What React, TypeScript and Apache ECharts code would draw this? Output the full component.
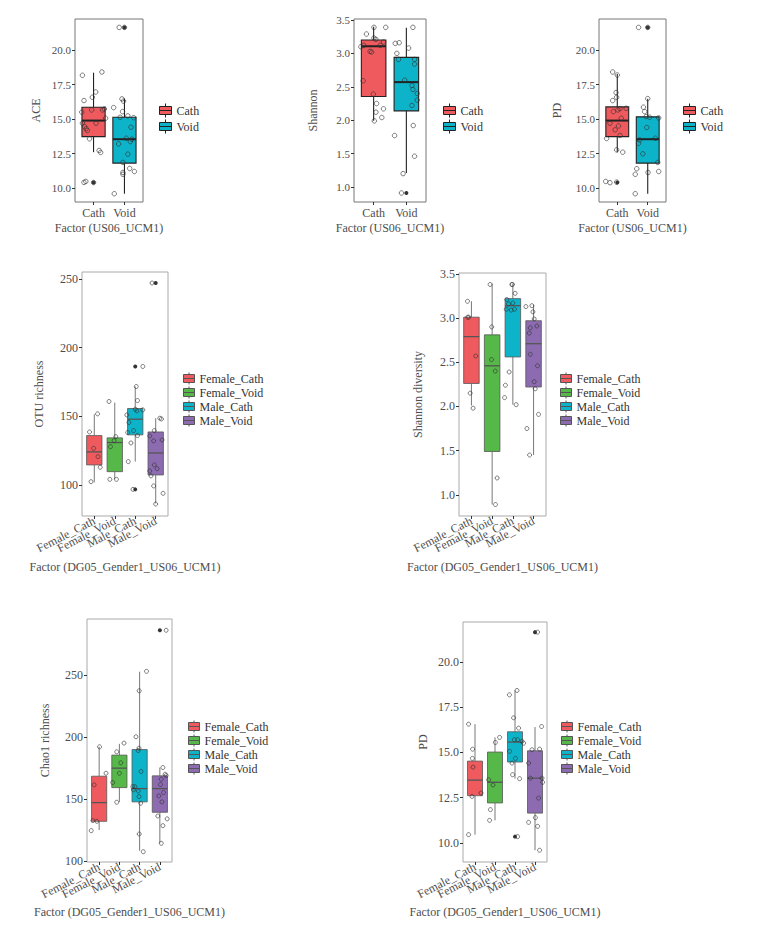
import React, { useEffect, useRef } from "react";
import * as echarts from "echarts";

const FONT = '"Liberation Serif", "Times New Roman", serif';

const cat2 = ["Cath", "Void"];
const cat4 = ["Female_Cath", "Female_Void", "Male_Cath", "Male_Void"];
const colors2 = ["#EF5A5E", "#0DB4C9"];
const colors4 = ["#EF5A5E", "#55B848", "#0DB4C9", "#8C6BB1"];

// box stats per group: [lower whisker, Q1, median, Q3, upper whisker]
// points per group: [horizontal jitter (category units), value]

// ---- ACE by US06_UCM1
const aceBox = [
  [12.6, 13.73, 14.89, 15.86, 18.36],
  [9.59, 11.81, 13.54, 15.13, 16.48],
];
const aceOut = [[10.41], [21.64]];
const acePts = [
  [[-0.36, 18.17], [0.27, 18.41], [-0.31, 16.34], [-0.04, 16.58], [0.07, 16.96], [-0.06, 15.66], [0.29, 15.66], [0.35, 15.73], [-0.38, 15.5], [-0.36, 14.7], [-0.29, 14.46], [-0.2, 14.17], [-0.24, 14.3], [0.08, 14.7], [0.39, 15.06], [-0.13, 13.57], [0.18, 12.72], [0.23, 12.58], [-0.31, 10.41], [-0.25, 10.48], [0, 10.4]],
  [[-0.17, 21.64], [0, 21.64], [-0.08, 16.46], [-0.03, 16.3], [-0.35, 15.83], [-0.06, 15.54], [0.11, 15.23], [0.3, 15.1], [-0.14, 15.13], [0.21, 14.41], [-0.19, 13.2], [0.06, 13.61], [0.24, 13.54], [0.19, 13.37], [0.11, 12.46], [-0.05, 11.86], [-0.05, 11.13], [-0.05, 11.0], [0.17, 11.42], [0.32, 11.2], [-0.33, 9.59]],
];

// ---- Shannon by US06_UCM1
const shBox = [
  [1.99, 2.355, 3.107, 3.2, 3.4],
  [1.21, 2.14, 2.57, 2.94, 3.385],
];
const shOut = [[], [0.91]];
const shPts = [
  [[-0.22, 3.29], [0.01, 3.39], [0.37, 3.39], [0.01, 3.23], [0.07, 3.21], [-0.39, 3.1], [-0.3, 3.12], [-0.11, 3.03], [-0.06, 3.02], [0.2, 3.12], [0.3, 3.17], [-0.32, 2.59], [-0.01, 2.39], [0.09, 2.25], [0.3, 2.17], [0.07, 2.12], [0.25, 2.04], [0.02, 1.99]],
  [[-0.34, 3.15], [-0.22, 3.16], [-0.29, 3.0], [-0.24, 2.91], [0.07, 3.08], [0.2, 3.39], [0.25, 2.91], [0.25, 2.84], [-0.05, 2.6], [0.17, 2.52], [0.2, 2.46], [0.33, 2.4], [0.33, 2.3], [0.17, 2.22], [0.21, 1.92], [-0.36, 1.77], [0.25, 1.46], [-0.1, 1.2], [-0.15, 0.91]],
];

// ---- PD by US06_UCM1
const pdBox = [
  [12.6, 13.73, 14.89, 15.88, 18.27],
  [9.59, 11.81, 13.54, 15.16, 16.48],
];
const pdOut = [[10.41], [21.64]];
const pdPts = [
  [[-0.15, 18.41], [0, 18.19], [-0.04, 16.92], [-0.02, 16.58], [-0.15, 16.34], [0.02, 15.66], [-0.13, 15.54], [0.09, 15.76], [0.29, 15.78], [-0.24, 14.7], [-0.07, 14.22], [0.04, 14.5], [0.13, 15.06], [0.09, 13.81], [-0.35, 13.59], [-0.02, 12.77], [0.18, 12.6], [-0.38, 10.48], [-0.24, 10.39], [-0.02, 10.43]],
  [[-0.3, 21.64], [0, 21.64], [0, 16.48], [-0.14, 15.86], [-0.1, 15.54], [-0.05, 15.18], [0.06, 15.13], [0.36, 15.08], [-0.03, 14.39], [-0.27, 13.49], [-0.3, 13.25], [0.25, 13.61], [-0.16, 12.48], [-0.36, 11.4], [-0.41, 11.0], [0.01, 11.13], [0.33, 11.86], [0.36, 11.2], [-0.41, 9.59]],
];

// ---- OTU richness by DG05_Gender1_US06_UCM1
const otuBox = [
  [101.9, 114.6, 124.1, 135.97, 151.5],
  [104.1, 109.7, 130.9, 134.3, 160.0],
  [117.0, 136.5, 147.9, 155.7, 171.7],
  [86.6, 107.3, 123.3, 138.6, 148.6],
];
const otuOut = [[], [], [186.3, 96.8], [247.1]];
const otuPts = [
  [[-0.23, 138.6], [0.16, 151.8], [-0.03, 126.7], [0.18, 120.6], [0.29, 112.9], [-0.16, 102.4]],
  [[-0.28, 160.8], [0.05, 135.2], [-0.03, 132.3], [-0.21, 127.9], [-0.24, 104.1], [0.08, 104.1]],
  [[0.37, 186.3], [0.05, 171.7], [0.11, 161.5], [-0.41, 151.0], [-0.31, 145.5], [-0.37, 138.2], [0, 155.2], [0.08, 154], [0.37, 154.7], [-0.08, 139.6], [0.11, 136], [-0.21, 130.6], [-0.34, 117.0], [-0.11, 96.8]],
  [[-0.18, 247.1], [0.2, 148.6], [0.28, 148.1], [-0.07, 139.6], [-0.29, 135.7], [-0.1, 132.1], [0.31, 132.8], [-0.07, 114.6], [0.07, 111.9], [-0.29, 110.2], [-0.23, 106.6], [-0.1, 99.3], [0.36, 93.9], [0, 86.1]],
];

// ---- Shannon diversity by DG05_Gender1_US06_UCM1
const shdBox = [
  [2.01, 2.26, 2.79, 3.01, 3.19],
  [0.89, 1.49, 2.46, 2.81, 3.39],
  [2.02, 2.56, 3.14, 3.22, 3.39],
  [1.45, 2.22, 2.71, 2.97, 3.15],
];
const shdOut = [[], [], [], []];
const shdPts = [
  [[-0.19, 3.19], [-0.18, 3.01], [-0.13, 3.01], [0.21, 2.57], [-0.06, 2.15], [0.08, 1.98]],
  [[-0.1, 3.38], [-0.02, 2.9], [-0.03, 2.53], [0.15, 2.4], [0.24, 1.19], [0.16, 0.89]],
  [[-0.05, 3.38], [-0.02, 3.38], [0.11, 3.28], [-0.29, 3.21], [-0.21, 3.16], [-0.32, 3.1], [-0.08, 3.09], [0.08, 3.1], [0, 3.17], [-0.18, 2.39], [-0.36, 2.24], [-0.4, 2.1], [0.16, 2.02]],
  [[-0.37, 3.13], [-0.08, 3.14], [-0.03, 3.07], [0.03, 2.99], [-0.16, 2.89], [0.16, 2.91], [-0.21, 2.83], [-0.16, 2.59], [0.19, 2.46], [0.03, 2.28], [0.08, 2.2], [0.24, 1.91], [-0.32, 1.75], [-0.19, 1.45]],
];

// ---- Chao1 richness by DG05_Gender1_US06_UCM1
const chaoBox = [
  [125.0, 132.0, 147.1, 168.4, 192.1],
  [147.7, 159.2, 174.9, 185.4, 194.5],
  [108.3, 147.7, 158.4, 189.9, 252.7],
  [114.3, 139.3, 158.4, 168.7, 175.4],
];
const chaoOut = [[], [], [], [286.1]];
const chaoPts = [
  [[0.02, 192.1], [-0.25, 161.4], [0.34, 170.8], [-0.31, 132.6], [-0.11, 132], [-0.39, 124.5]],
  [[-0.13, 188.1], [0.23, 195.1], [0.07, 179.2], [0, 170.8], [-0.33, 163.3], [-0.13, 147.4]],
  [[0.34, 253.0], [-0.02, 237.3], [-0.18, 200.2], [-0.03, 191.0], [-0.07, 189.1], [0.07, 172.2], [-0.34, 160], [-0.23, 160.0], [-0.31, 157.4], [-0.07, 156.5], [-0.03, 152.0], [0.05, 146.6], [-0.02, 121.8], [0.18, 107.5]],
  [[0.31, 286.1], [0.15, 175.4], [0.26, 170.0], [0.31, 168.9], [0.07, 166.0], [0.03, 161.7], [0.18, 155.2], [-0.05, 152.5], [0.1, 147.7], [-0.1, 136.3], [0.36, 134.0], [0.15, 128.5], [0.07, 114.3]],
];

// ---- PD by DG05_Gender1_US06_UCM1
const pd4Box = [
  [10.46, 12.61, 13.47, 14.52, 16.56],
  [11.25, 12.21, 13.35, 15.02, 15.83],
  [13.55, 14.47, 15.57, 16.14, 18.42],
  [9.6, 11.65, 13.58, 15.09, 16.4],
];
const pd4Out = [[], [], [10.35], [21.64]];
const pd4Pts = [
  [[-0.32, 16.56], [-0.12, 15.18], [-0.13, 14.67], [-0.1, 14.19], [0.3, 12.76], [-0.15, 12.57], [-0.32, 10.46]],
  [[0.23, 15.83], [0.02, 15.55], [-0.32, 13.49], [-0.1, 13.2], [-0.23, 11.84], [-0.27, 11.25]],
  [[0.1, 18.42], [-0.28, 18.18], [-0.07, 16.91], [0.18, 16.34], [-0.03, 15.7], [0.13, 15.7], [0.35, 15.61], [0.43, 15.51], [-0.27, 15.06], [-0.15, 14.41], [0.02, 14.67], [-0.12, 13.77], [0.23, 13.55], [0.13, 10.35]],
  [[0.13, 21.64], [0.33, 16.43], [0.23, 15.18], [-0.15, 15.15], [-0.32, 14.41], [-0.23, 13.58], [0.35, 13.58], [0.38, 13.35], [0.18, 12.48], [-0.32, 11.14], [0.02, 11.4], [0.13, 10.92], [0.23, 9.6]],
];

const ticksPD = [10, 12.5, 15, 17.5, 20];
const ticksSh = [1, 1.5, 2, 2.5, 3, 3.5];
const ticksRich = [100, 150, 200, 250];

const xName2 = "Factor (US06_UCM1)";
const xName4 = "Factor (DG05_Gender1_US06_UCM1)";

const ICON_TOP = "path://M6,0L6,3M0,3L12,3L12,11L0,11ZM0,7L12,7M6,11L6,14";
const ICON_BOT = "path://M5.5,0L5.5,2M0,2L11,2L11,10L0,10ZM0,6L11,6M5.5,10L5.5,12";

const panels = [
  { cats: cat2, colors: colors2, box: aceBox, out: aceOut, pts: acePts, ymin: 8.99, ymax: 22.25, ticks: ticksPD, dec: 1, yName: "ACE", xName: xName2,
    grid: [75, 19, 68, 183], yGap: 33, xGap: 20, rotate: 0, legend: [159, 103], top: true },
  { cats: cat2, colors: colors2, box: shBox, out: shOut, pts: shPts, ymin: 0.775, ymax: 3.515, ticks: ticksSh, dec: 1, yName: "Shannon", xName: xName2,
    grid: [354, 19, 72, 183], yGap: 35, xGap: 20, rotate: 0, legend: [443, 103], top: true },
  { cats: cat2, colors: colors2, box: pdBox, out: pdOut, pts: pdPts, ymin: 8.99, ymax: 22.25, ticks: ticksPD, dec: 1, yName: "PD", xName: xName2,
    grid: [599, 19, 67, 183], yGap: 36, xGap: 20, rotate: 0, legend: [683, 103], top: true },
  { cats: cat4, colors: colors4, box: otuBox, out: otuOut, pts: otuPts, ymin: 77.4, ymax: 255.1, ticks: ticksRich, dec: 0, yName: "OTU richness", xName: xName4,
    grid: [82, 272, 86, 244], yGap: 37, xGap: 45, rotate: 27, legend: [183, 372], top: false },
  { cats: cat4, colors: colors4, box: shdBox, out: shdOut, pts: shdPts, ymin: 0.76, ymax: 3.51, ticks: ticksSh, dec: 1, yName: "Shannon diversity", xName: xName4,
    grid: [459, 273, 87, 243], yGap: 35, xGap: 45, rotate: 27, legend: [560, 372], top: false },
  { cats: cat4, colors: colors4, box: chaoBox, out: chaoOut, pts: chaoPts, ymin: 99.2, ymax: 295.2, ticks: ticksRich, dec: 0, yName: "Chao1 richness", xName: xName4,
    grid: [87, 619, 85, 243], yGap: 36, xGap: 44, rotate: 27, legend: [188, 720], top: false },
  { cats: cat4, colors: colors4, box: pd4Box, out: pd4Out, pts: pd4Pts, ymin: 8.95, ymax: 22.2, ticks: ticksPD, dec: 1, yName: "PD", xName: xName4,
    grid: [463, 622, 84, 240], yGap: 34, xGap: 44, rotate: 27, legend: [561, 720], top: false },
];

function makeRender(stroke: string, lw: number, medLw: number) {
  return (params: any, api: any) => {
    const x = api.value(0);
    const lo = api.coord([x, api.value(1)]);
    const q1 = api.coord([x, api.value(2)]);
    const md = api.coord([x, api.value(3)]);
    const q3 = api.coord([x, api.value(4)]);
    const hi = api.coord([x, api.value(5)]);
    const half = api.size([0.75, 0])[0] / 2;
    const fill = api.visual("color");
    return {
      type: "group",
      children: [
        { type: "line", shape: { x1: hi[0], y1: hi[1], x2: q3[0], y2: q3[1] }, style: { stroke, lineWidth: lw } },
        { type: "line", shape: { x1: q1[0], y1: q1[1], x2: lo[0], y2: lo[1] }, style: { stroke, lineWidth: lw } },
        { type: "rect", shape: { x: q3[0] - half, y: q3[1], width: half * 2, height: q1[1] - q3[1] }, style: { fill, stroke, lineWidth: lw } },
        { type: "line", shape: { x1: md[0] - half, y1: md[1], x2: md[0] + half, y2: md[1] }, style: { stroke, lineWidth: medLw } },
      ],
    };
  };
}

function buildOption() {
  const grid: any[] = [];
  const xAxis: any[] = [];
  const labelAxes: any[] = [];
  const yAxis: any[] = [];
  const legend: any[] = [];
  const series: any[] = [];
  const textCol = "#4d4d4d";

  panels.forEach((p, i) => {
    const n = p.cats.length;
    const stroke = p.top ? "#222" : "#555";
    grid.push({
      left: p.grid[0], top: p.grid[1], width: p.grid[2], height: p.grid[3],
      show: true, borderColor: p.top ? "#777" : "#aaa", borderWidth: 1, backgroundColor: "#fff",
    });
    // value axis (positions of boxes & points): 0.6 units of padding each side, as ggplot
    xAxis.push({
      gridIndex: i, type: "value", position: "top", min: 0.4, max: n + 0.6, show: false,
    });
    // label axes: category points every 0.1 unit; one axis per category label
    const steps = Math.round((n + 0.2) * 10) + 1;
    const stepData = Array.from({ length: steps }, (_, j) => "s" + j);
    p.cats.forEach((c, k) => {
      const at = (j: number) => j === 6 + 10 * k;
      labelAxes.push({
        gridIndex: i, type: "category", position: "bottom", offset: 0, boundaryGap: false, data: stepData,
        axisLine: { show: false }, splitLine: { show: false },
        axisTick: { show: true, interval: at, length: 3, lineStyle: { color: "#333" } },
        axisLabel: {
          interval: at, formatter: () => c,
          rotate: p.rotate, margin: p.rotate ? 4 : 5, fontSize: 12, color: textCol, fontFamily: FONT,
          showMinLabel: true, showMaxLabel: true, hideOverlap: false,
        },
        name: k === 0 ? p.xName : "", nameLocation: "middle", nameGap: p.xGap,
        nameTextStyle: { fontSize: 12, color: textCol, fontFamily: FONT },
      });
    });
    yAxis.push({
      gridIndex: i, type: "value", min: p.ymin, max: p.ymax,
      axisLine: { show: false }, splitLine: { show: false },
      axisTick: { show: true, customValues: p.ticks, length: 3, lineStyle: { color: "#333" } },
      axisLabel: {
        customValues: p.ticks, formatter: (v: number) => v.toFixed(p.dec),
        margin: 4, fontSize: p.top ? 11 : 12, color: textCol, fontFamily: FONT,
        showMinLabel: true, showMaxLabel: true, hideOverlap: false,
      },
      name: p.yName, nameLocation: "middle", nameGap: p.yGap,
      nameTextStyle: { fontSize: 12, color: textCol, fontFamily: FONT },
    });
    legend.push({
      orient: "vertical", left: p.legend[0], top: p.legend[1], padding: 0,
      itemWidth: p.top ? 12 : 11, itemHeight: p.top ? 14 : 12, itemGap: 1,
      icon: p.top ? ICON_TOP : ICON_BOT, selectedMode: false,
      itemStyle: { borderColor: stroke, borderWidth: 1 },
      textStyle: { fontSize: 12, color: "#333", fontFamily: FONT },
      data: p.cats.map((c) => ({ name: c })),
    });
    p.cats.forEach((c, k) => {
      series.push({
        type: "custom", name: c, xAxisIndex: i, yAxisIndex: i, silent: true,
        itemStyle: { color: p.colors[k] },
        renderItem: makeRender(stroke, p.top ? 1.1 : 0.8, p.top ? 2 : 1.3),
        encode: { x: 0, y: [1, 2, 3, 4, 5] },
        data: [[k + 1, ...p.box[k]]],
      });
    });
    const outData: number[][] = [];
    p.out.forEach((arr, k) => arr.forEach((v) => outData.push([k + 1, v])));
    series.push({
      type: "scatter", name: "outliers-" + i, xAxisIndex: i, yAxisIndex: i, silent: true,
      symbol: "circle", symbolSize: 4, itemStyle: { color: "#000" }, data: outData,
    });
    const ptData: number[][] = [];
    p.pts.forEach((arr, k) => arr.forEach((pt) => ptData.push([k + 1 + pt[0], pt[1]])));
    series.push({
      type: "scatter", name: "points-" + i, xAxisIndex: i, yAxisIndex: i, silent: true,
      symbol: "circle", symbolSize: p.top ? 4.5 : 4,
      itemStyle: { color: "rgba(255,255,255,0)", borderColor: "#333", borderWidth: 0.8 },
      data: ptData,
    });
  });

  return {
    animation: false, backgroundColor: "#fff", grid,
    xAxis: [...xAxis, ...labelAxes], yAxis, legend, series,
  };
}

export default function App() {
  const ref = useRef<HTMLDivElement>(null);
  useEffect(() => {
    if (!ref.current) return;
    const chart = echarts.init(ref.current, undefined, { renderer: "svg" });
    chart.setOption(buildOption() as any);
    return () => chart.dispose();
  }, []);
  return (
    <div
      ref={ref}
      style={{ position: "absolute", left: 0, top: 0, width: 774, height: 933, background: "#fff" }}
    />
  );
}
